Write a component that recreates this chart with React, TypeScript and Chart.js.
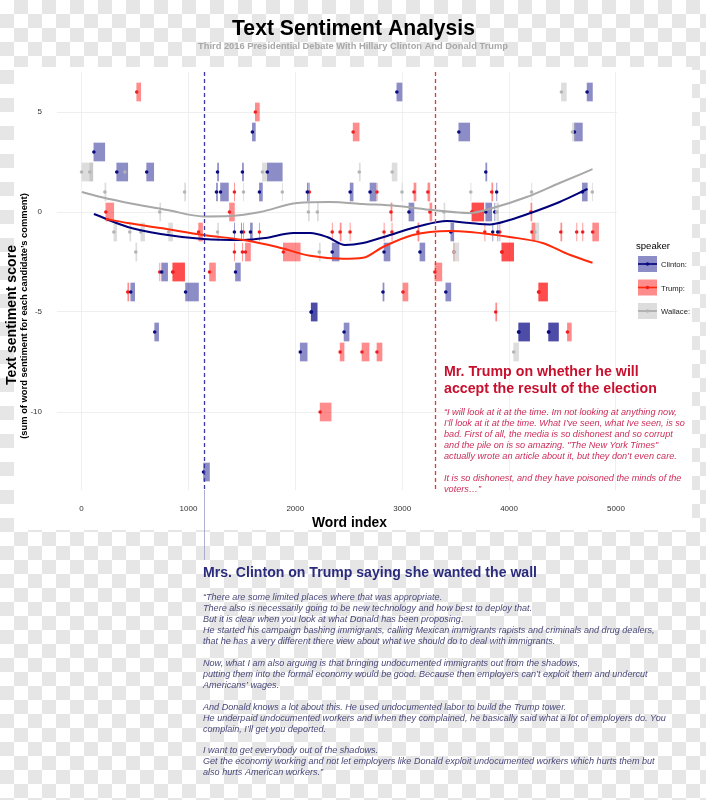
import React, { useEffect, useRef } from "react";
import { Chart, registerables } from "chart.js";

Chart.register(...registerables);

const FONT = '"Liberation Sans", Arial, Helvetica, sans-serif';

// ---------- comments: start word, end word, sentiment score ----------
const clintonStart = [2950, 4730, 1598, 3530, 4612, 115, 329, 609, 1272, 1505, 1738, 3782, 1262, 1300, 1664, 2112, 2513, 2699, 3884, 4686, 3063, 3782, 3866, 1430, 1496, 1580, 3455, 3847, 3894, 2345, 2830, 3166, 749, 1440, 460, 973, 2820, 3408, 2148, 2150, 684, 2456, 4089, 4092, 4369, 4372, 2046, 1141];
const clintonEnd = [2998, 4780, 1626, 3632, 4686, 217, 432, 675, 1282, 1515, 1878, 3792, 1272, 1374, 1692, 2122, 2541, 2755, 3886, 4732, 3110, 3838, 3868, 1432, 1498, 1598, 3483, 3849, 3896, 2410, 2886, 3212, 805, 1486, 497, 1094, 2830, 3455, 2204, 2204, 721, 2503, 4192, 4192, 4462, 4462, 2111, 1197];
const clintonScore = [6, 6, 4, 4, 4, 3, 2, 2, 2, 2, 2, 2, 1, 1, 1, 1, 1, 1, 1, 1, 0, 0, 0, -1, -1, -1, -1, -1, -1, -2, -2, -2, -3, -3, -4, -4, -4, -4, -5, -5, -6, -6, -6, -6, -6, -6, -7, -13];

const trumpStart = [516, 1626, 2541, 1430, 2131, 2764, 3110, 3240, 3838, 227, 1384, 2895, 3259, 3651, 3655, 4204, 1095, 1515, 1664, 2345, 2419, 2512, 2830, 2904, 3147, 3773, 3913, 4214, 4484, 4633, 4689, 4782, 1430, 1505, 1533, 1888, 3483, 3931, 3935, 731, 852, 856, 1197, 3306, 432, 3007, 4276, 4280, 3875, 4546, 2419, 2624, 2764, 2232];
const trumpEnd = [553, 1664, 2597, 1432, 2133, 2766, 3129, 3259, 3848, 301, 1430, 2905, 3278, 3763, 3763, 4214, 1132, 1517, 1666, 2347, 2429, 2514, 2832, 2906, 3157, 3775, 3915, 4242, 4494, 4635, 4691, 4838, 1432, 1507, 1580, 2046, 3485, 4043, 4043, 733, 964, 964, 1253, 3371, 442, 3054, 4360, 4360, 3885, 4583, 2456, 2690, 2811, 2335];
const trumpScore = [6, 5, 4, 1, 1, 1, 1, 1, 1, 0, 0, 0, 0, 0, 0, 0, -1, -1, -1, -1, -1, -1, -1, -1, -1, -1, -1, -1, -1, -1, -1, -1, -2, -2, -2, -2, -2, -2, -2, -3, -3, -3, -3, -3, -4, -4, -4, -4, -5, -6, -7, -7, -7, -10];

const wallaceStart = [4490, 4593, 0, 77, 405, 1692, 2598, 2906, 218, 964, 1515, 1878, 2998, 3642, 4211, 4779, 731, 2122, 2206, 3390, 3884, 302, 451, 554, 815, 1272, 4242, 507, 2224, 3483, 4043];
const wallaceEnd = [4536, 4620, 105, 105, 407, 1738, 2608, 2952, 228, 974, 1517, 1880, 3000, 3644, 4213, 4781, 741, 2132, 2216, 3400, 3903, 329, 461, 590, 852, 1282, 4279, 517, 2234, 3530, 4089];
const wallaceScore = [6, 4, 2, 2, 2, 2, 2, 2, 1, 1, 1, 1, 1, 1, 1, 1, 0, 0, 0, 0, 0, -1, -1, -1, -1, -1, -1, -2, -2, -2, -7];

// ---------- smoothed trend per speaker ----------
const clintonSmoothX = [115, 432, 740, 1141, 1514, 1720, 1981, 2140, 2298, 2466, 2634, 2886, 3166, 3418, 3632, 3820, 4006, 4202, 4473, 4734];
const clintonSmoothY = [-0.1, -0.75, -1.1, -1.35, -1.4, -1.3, -1.05, -1.05, -1.25, -1.65, -1.55, -1.15, -0.7, -0.45, -0.55, -0.62, -0.4, -0.05, 0.5, 1.15];
const trumpSmoothX = [227, 432, 740, 1141, 1514, 1831, 2140, 2447, 2634, 2820, 3100, 3446, 3633, 4006, 4314, 4566, 4781];
const trumpSmoothY = [-0.35, -0.55, -0.8, -1.15, -1.4, -1.75, -2.19, -2.34, -2.29, -1.75, -1.15, -0.95, -1.0, -1.25, -1.55, -2.14, -2.54];
const wallaceSmoothX = [3, 180, 488, 805, 1141, 1394, 1673, 2018, 2326, 2634, 2951, 3287, 3632, 3847, 4165, 4473, 4781];
const wallaceSmoothY = [1.0, 0.75, 0.4, 0.1, -0.22, -0.2, 0.0, 0.45, 0.5, 0.4, 0.3, 0.1, -0.05, 0.2, 0.75, 1.45, 2.14];

const speakerLabels = ["Clinton:", "Trump:", "Wallace:"];
const xTickValues = [0, 1000, 2000, 3000, 4000, 5000];
const yTickValues = [-10, -5, 0, 5];
const clintonQuoteWord = 1141;
const trumpQuoteWord = 3306;

const titleText = "Text Sentiment Analysis";
const subtitleText = "Third 2016 Presidential Debate With Hillary Clinton And Donald Trump";
const yTitleText = "Text sentiment score";
const ySubTitleText = "(sum of word sentiment for each candidate\u2019s comment)";
const xTitleText = "Word index";
const trumpHeading = ["Mr. Trump on whether he will", "accept the result of the election"];
const trumpQuote = [
  "\u201CI will look at it at the time. Im not looking at anything now,",
  "I\u2019ll look at it at the time. What I\u2019ve seen, what Ive seen, is so",
  "bad. First of all, the media is so dishonest and so corrupt",
  "and the pile on is so amazing. \"The New York Times\"",
  "actually wrote an article about it, but they don\u2019t even care.",
  "",
  "It is so dishonest, and they have poisoned the minds of the",
  "voters\u2026\u201D",
];
const clintonHeading = "Mrs. Clinton on Trump saying she wanted the wall";
const clintonQuote = [
  "\u201CThere are some limited places where that was appropriate.",
  "There also is necessarily going to be new technology and how best to deploy that.",
  "But it is clear when you look at what Donald has been proposing.",
  "He started his campaign bashing immigrants, calling Mexican immigrants rapists and criminals and drug dealers,",
  "that he has a very different there view about what we should do to deal with immigrants.",
  "",
  "Now, what I am also arguing is that bringing undocumented immigrants out from the shadows,",
  "putting them into the formal economy would be good. Because then employers can\u2019t exploit them and undercut",
  "Americans\u2019 wages.",
  "",
  "And Donald knows a lot about this. He used undocumented labor to build the Trump tower.",
  "He underpaid undocumented workers and when they complained, he basically said what a lot of employers do. You",
  "complain, I\u2019ll get you deported.",
  "",
  "I want to get everybody out of the shadows.",
  "Get the economy working and not let employers like Donald exploit undocumented workers which hurts them but",
  "also hurts American workers.\u201D",
];

const fills = ["rgba(0,0,128,0.45)", "rgba(255,0,0,0.45)", "rgba(165,165,165,0.38)"];
const dotColors = ["#0b0b80", "#f01e1e", "#b4b4b4"];
const lineColors = ["#00007a", "#ff2a0a", "#a8a8a8"];

function rects(s: number[], e: number[], v: number[]) {
  return s.map((x, i) => ({ x: [x, e[i]], y: v[i] }));
}
function pts(s: number[], v: number[]) {
  return s.map((x, i) => ({ x, y: v[i] }));
}

function fitSize(ctx: CanvasRenderingContext2D, text: string, width: number, weight: string, style: string) {
  ctx.font = `${style} ${weight} 100px ${FONT}`;
  const w = ctx.measureText(text).width;
  return (100 * width) / w;
}
function setFont(ctx: CanvasRenderingContext2D, size: number, weight: string, style: string) {
  ctx.font = `${style} ${weight} ${size.toFixed(2)}px ${FONT}`;
}

const decor = {
  id: "decor",
  beforeDraw(chart: any) {
    const ctx = chart.ctx as CanvasRenderingContext2D;
    ctx.save();
    ctx.fillStyle = "#ffffff";
    ctx.fillRect(14, 67, 678, 463);
    ctx.restore();
  },
  afterDatasetsDraw(chart: any) {
    const ctx = chart.ctx as CanvasRenderingContext2D;
    const { top, bottom } = chart.chartArea;
    const xs = chart.scales.x;
    const xc = Math.round(xs.getPixelForValue(clintonQuoteWord)) + 0.5;
    const xt = Math.round(xs.getPixelForValue(trumpQuoteWord)) + 0.5;
    ctx.save();
    ctx.setLineDash([4, 3]);
    ctx.lineWidth = 1.3;
    ctx.strokeStyle = "#3a3aa2";
    ctx.beginPath();
    ctx.moveTo(xc, top);
    ctx.lineTo(xc, bottom);
    ctx.stroke();
    ctx.strokeStyle = "#e4392c";
    ctx.beginPath();
    ctx.moveTo(xt, top);
    ctx.lineTo(xt, bottom + 2);
    ctx.stroke();
    ctx.setLineDash([]);
    ctx.lineWidth = 0.8;
    ctx.strokeStyle = "#9c9cc8";
    ctx.beginPath();
    ctx.moveTo(xc, bottom);
    ctx.lineTo(xc, 560);
    ctx.stroke();
    ctx.restore();
  },
  afterDraw(chart: any) {
    const ctx = chart.ctx as CanvasRenderingContext2D;
    ctx.save();
    ctx.textBaseline = "alphabetic";

    // title + subtitle
    ctx.textAlign = "center";
    ctx.fillStyle = "#000000";
    setFont(ctx, fitSize(ctx, titleText, 243, "bold", "normal"), "bold", "normal");
    ctx.fillText(titleText, 353.5, 35);
    ctx.fillStyle = "#a8a8a8";
    setFont(ctx, fitSize(ctx, subtitleText, 310, "bold", "normal"), "bold", "normal");
    ctx.fillText(subtitleText, 353, 49);

    // axis titles
    ctx.fillStyle = "#000000";
    setFont(ctx, fitSize(ctx, xTitleText, 75, "bold", "normal"), "bold", "normal");
    ctx.fillText(xTitleText, 349.5, 527);

    ctx.save();
    ctx.translate(15.5, 315);
    ctx.rotate(-Math.PI / 2);
    setFont(ctx, fitSize(ctx, yTitleText, 140, "bold", "normal"), "bold", "normal");
    ctx.fillText(yTitleText, 0, 0);
    ctx.restore();
    ctx.save();
    ctx.translate(27, 316);
    ctx.rotate(-Math.PI / 2);
    setFont(ctx, fitSize(ctx, ySubTitleText, 246, "bold", "normal"), "bold", "normal");
    ctx.fillText(ySubTitleText, 0, 0);
    ctx.restore();

    // legend
    ctx.textAlign = "left";
    ctx.fillStyle = "#000000";
    setFont(ctx, fitSize(ctx, "speaker", 34, "normal", "normal"), "normal", "normal");
    ctx.fillText("speaker", 636, 249);
    const labelSize = fitSize(ctx, speakerLabels[0], 26, "normal", "normal");
    speakerLabels.forEach((lab, i) => {
      const cy = 264 + i * 23.5;
      ctx.fillStyle = fills[i];
      ctx.fillRect(638, cy - 8, 19, 16);
      ctx.strokeStyle = lineColors[i];
      ctx.lineWidth = 1.6;
      ctx.beginPath();
      ctx.moveTo(638, cy);
      ctx.lineTo(657, cy);
      ctx.stroke();
      ctx.fillStyle = dotColors[i];
      ctx.beginPath();
      ctx.arc(647.5, cy, 1.8, 0, Math.PI * 2);
      ctx.fill();
      ctx.fillStyle = "#1a1a1a";
      setFont(ctx, labelSize, "normal", "normal");
      ctx.fillText(lab, 661, cy + 3);
    });

    // Trump annotation
    ctx.fillStyle = "#c8102e";
    const thSize = fitSize(ctx, trumpHeading[1], 213, "bold", "normal");
    setFont(ctx, thSize, "bold", "normal");
    ctx.fillText(trumpHeading[0], 444, 376);
    ctx.fillText(trumpHeading[1], 444, 393);
    ctx.fillStyle = "#cc2f5a";
    const tqSize = fitSize(ctx, trumpQuote[0], 233, "normal", "italic");
    setFont(ctx, tqSize, "normal", "italic");
    trumpQuote.forEach((l, i) => {
      if (l) ctx.fillText(l, 444, 415 + i * 11);
    });

    // Clinton annotation
    ctx.fillStyle = "#2b2b7e";
    setFont(ctx, fitSize(ctx, clintonHeading, 334, "bold", "normal"), "bold", "normal");
    ctx.fillText(clintonHeading, 203, 577);
    ctx.fillStyle = "#48487a";
    const cqSize = fitSize(ctx, clintonQuote[3], 452, "normal", "italic");
    setFont(ctx, cqSize, "normal", "italic");
    const cqY = [600, 611, 622, 633, 644, 0, 666, 677, 688, 0, 710, 721, 732, 0, 753, 764, 775];
    clintonQuote.forEach((l, i) => {
      if (l) ctx.fillText(l, 203, cqY[i]);
    });

    ctx.restore();
  },
};

export default function App() {
  const ref = useRef<HTMLCanvasElement>(null);
  useEffect(() => {
    if (!ref.current) return;
    const barBase = { type: "bar" as const, indexAxis: "y" as const, barThickness: 18, grouped: false, borderWidth: 0, order: 3 };
    const dotBase = { type: "scatter" as const, pointRadius: 1.8, pointBorderWidth: 0, order: 2 };
    const lineBase = { type: "line" as const, pointRadius: 0, borderWidth: 2, fill: false, cubicInterpolationMode: "monotone" as const, order: 1 };
    const chart = new Chart(ref.current, {
      type: "scatter",
      data: {
        datasets: [
          { ...barBase, label: "Wallace", data: rects(wallaceStart, wallaceEnd, wallaceScore), backgroundColor: fills[2] },
          { ...barBase, label: "Clinton", data: rects(clintonStart, clintonEnd, clintonScore), backgroundColor: fills[0] },
          { ...barBase, label: "Trump", data: rects(trumpStart, trumpEnd, trumpScore), backgroundColor: fills[1] },
          { ...dotBase, label: "Wallace pts", data: pts(wallaceStart, wallaceScore), backgroundColor: dotColors[2] },
          { ...dotBase, label: "Clinton pts", data: pts(clintonStart, clintonScore), backgroundColor: dotColors[0] },
          { ...dotBase, label: "Trump pts", data: pts(trumpStart, trumpScore), backgroundColor: dotColors[1] },
          { ...lineBase, label: "Wallace smooth", data: pts(wallaceSmoothX, wallaceSmoothY), borderColor: lineColors[2] },
          { ...lineBase, label: "Trump smooth", data: pts(trumpSmoothX, trumpSmoothY), borderColor: lineColors[1] },
          { ...lineBase, label: "Clinton smooth", data: pts(clintonSmoothX, clintonSmoothY), borderColor: lineColors[0] },
        ] as any,
      },
      options: {
        responsive: false,
        animation: false,
        events: [],
        layout: { padding: { left: 0, top: 72, right: 89, bottom: 280 } },
        plugins: { legend: { display: false }, tooltip: { enabled: false }, title: { display: false } },
        scales: {
          x: {
            type: "linear",
            min: -230,
            max: 5010,
            offset: false,
            afterBuildTicks: (s: any) => {
              s.ticks = xTickValues.map((v) => ({ value: v }));
            },
            afterFit: (s: any) => {
              s.height = 30;
            },
            grid: { color: "#ebebeb", lineWidth: 0.8, drawTicks: false, offset: false },
            border: { display: false },
            ticks: { color: "#333333", font: { family: FONT, size: 8 }, padding: 14, maxRotation: 0, autoSkip: false, callback: (v: any) => String(v) },
          },
          y: {
            type: "linear",
            min: -13.9,
            max: 7,
            offset: false,
            afterBuildTicks: (s: any) => {
              s.ticks = yTickValues.map((v) => ({ value: v }));
            },
            afterFit: (s: any) => {
              s.width = 57;
            },
            grid: { color: "#ebebeb", lineWidth: 0.8, drawTicks: false, offset: false },
            border: { display: false },
            ticks: { color: "#333333", font: { family: FONT, size: 8 }, padding: 15, autoSkip: false, callback: (v: any) => String(v) },
          },
        },
      } as any,
      plugins: [decor],
    });
    return () => chart.destroy();
  }, []);

  return (
    <div
      style={{
        position: "absolute",
        left: 0,
        top: 0,
        width: 706,
        height: 800,
        backgroundColor: "#ffffff",
        backgroundImage: "repeating-conic-gradient(#e6e6e6 0% 25%, #ffffff 0% 50%)",
        backgroundSize: "28px 28px",
      }}
    >
      <canvas ref={ref} width={706} height={800} style={{ display: "block" }} />
    </div>
  );
}
